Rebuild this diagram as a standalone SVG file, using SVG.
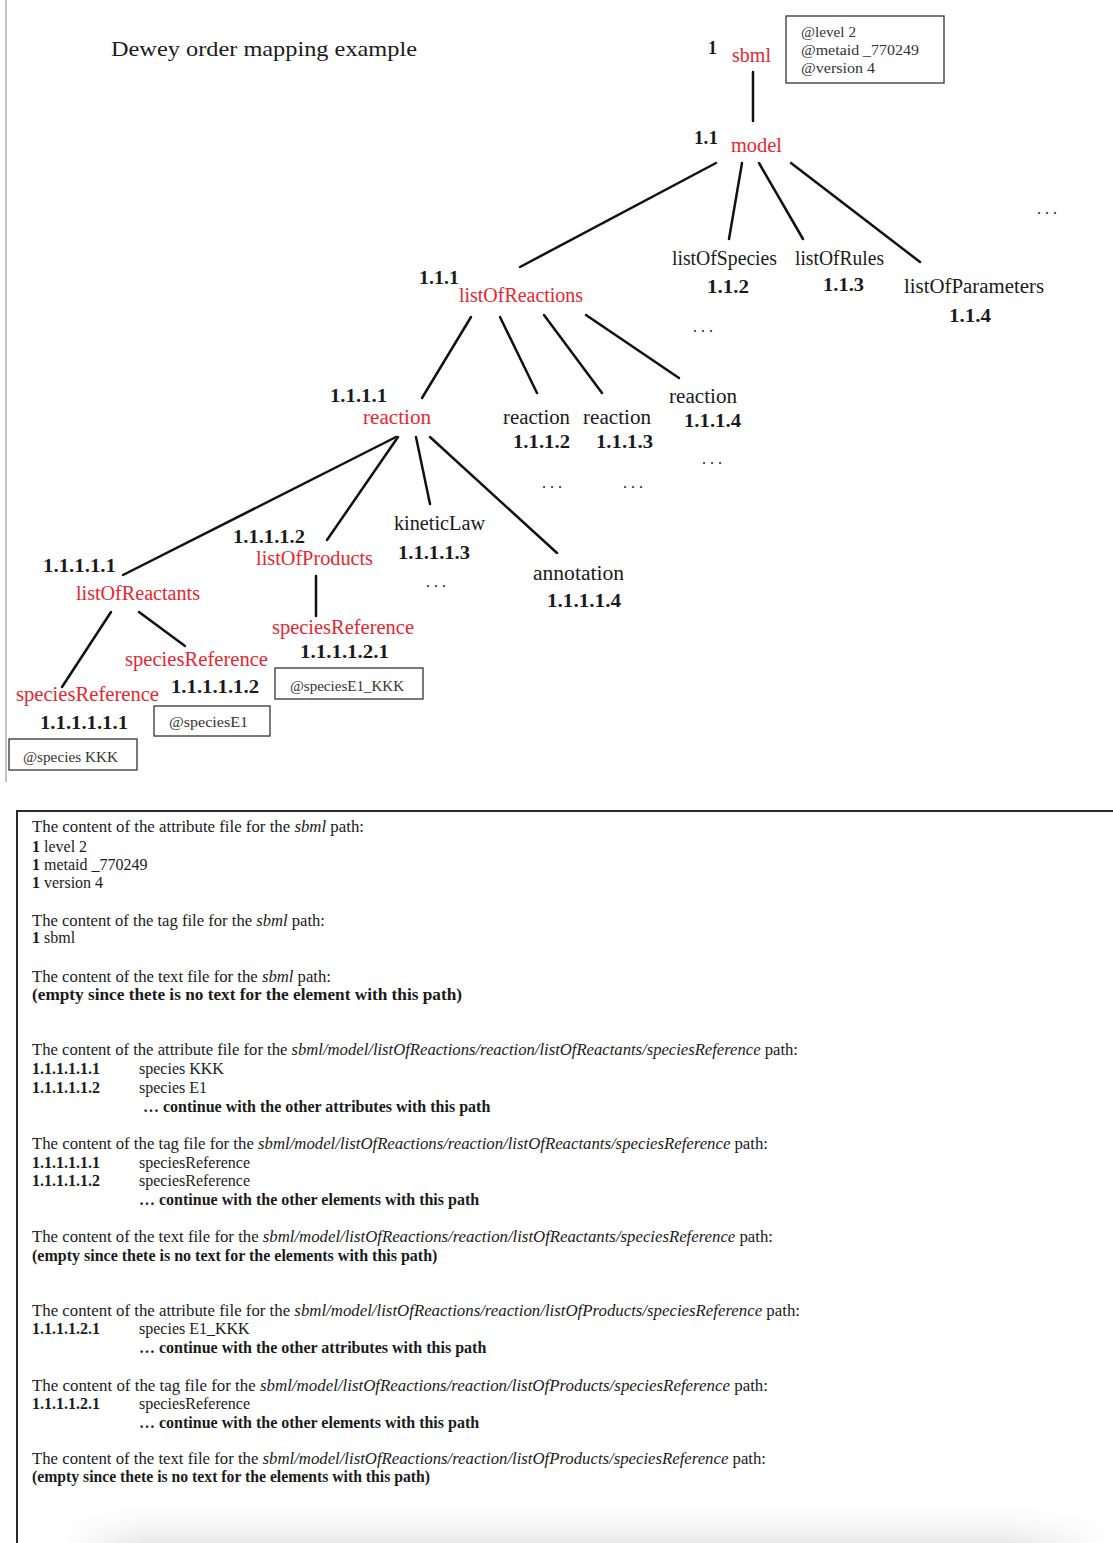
<svg xmlns="http://www.w3.org/2000/svg" width="1113" height="1543" viewBox="0 0 1113 1543">
<style>
text{font-family:"Liberation Serif","DejaVu Serif",serif;fill:#1a1a1a}
.lbl{font-size:20px}
.red{font-size:20px;fill:#e8262f}
.num{font-size:18px;font-weight:bold}
.att{font-size:15px;fill:#333}
.ell{font-size:16px;letter-spacing:4px}
.t{font-size:16px}
.b{font-weight:bold}
.i{font-style:italic}
.box{fill:none;stroke:#333;stroke-width:1.3}
#connectors line{stroke:#111;stroke-width:2.5;stroke-linecap:round}
</style>
<defs>
<linearGradient id="shade" x1="0" y1="0" x2="0" y2="1">
<stop offset="0" stop-color="#ffffff" stop-opacity="0"/>
<stop offset="1" stop-color="#e9e9e9"/>
</linearGradient>
<linearGradient id="fadeX" x1="0" y1="0" x2="1" y2="0">
<stop offset="0" stop-color="#fff" stop-opacity="1"/>
<stop offset="0.08" stop-color="#fff" stop-opacity="0"/>
<stop offset="0.9" stop-color="#fff" stop-opacity="0"/>
<stop offset="1" stop-color="#fff" stop-opacity="1"/>
</linearGradient>
</defs>
<rect width="1113" height="1543" fill="#fff"/>

<line x1="6" y1="0" x2="6" y2="782" stroke="#c4c4c4" stroke-width="2"/>

<text x="111" y="56" font-size="22" textLength="306" lengthAdjust="spacingAndGlyphs">Dewey order mapping example</text>

<g id="connectors">
<line x1="753" y1="72" x2="753" y2="121"/>
<line x1="716" y1="163" x2="520" y2="267"/>
<line x1="742" y1="163" x2="729" y2="239"/>
<line x1="759" y1="163" x2="803" y2="239"/>
<line x1="791" y1="163" x2="920" y2="262"/>
<line x1="471" y1="317" x2="422" y2="398"/>
<line x1="500" y1="317" x2="537" y2="393"/>
<line x1="544" y1="315" x2="602" y2="393"/>
<line x1="586" y1="315" x2="679" y2="378"/>
<line x1="396" y1="437" x2="123" y2="575"/>
<line x1="398" y1="437" x2="327" y2="540"/>
<line x1="416" y1="437" x2="430" y2="504"/>
<line x1="430" y1="437" x2="557" y2="553"/>
<line x1="316" y1="576" x2="316" y2="616"/>
<line x1="111" y1="612" x2="62" y2="687"/>
<line x1="139" y1="612" x2="185" y2="646"/>
</g>

<g id="n-sbml">
<text class="num" x="708" y="54">1</text>
<text class="red" x="732" y="62" textLength="39" lengthAdjust="spacingAndGlyphs">sbml</text>
</g>
<g id="attr-sbml">
<rect class="box" x="786" y="16" width="158" height="67"/>
<text class="att" x="801" y="37" textLength="55" lengthAdjust="spacingAndGlyphs">@level 2</text>
<text class="att" x="801" y="55" textLength="118" lengthAdjust="spacingAndGlyphs">@metaid _770249</text>
<text class="att" x="801" y="73" textLength="74" lengthAdjust="spacingAndGlyphs">@version 4</text>
</g>
<g id="n-model">
<text class="num" x="694" y="144" textLength="24" lengthAdjust="spacingAndGlyphs">1.1</text>
<text class="red" x="731" y="152" textLength="51" lengthAdjust="spacingAndGlyphs">model</text>
</g>
<g id="n-listOfReactions">
<text class="num" x="419" y="284" textLength="40" lengthAdjust="spacingAndGlyphs">1.1.1</text>
<text class="red" x="459" y="302" textLength="124" lengthAdjust="spacingAndGlyphs">listOfReactions</text>
</g>
<g id="n-listOfSpecies">
<text class="lbl" x="672" y="265" textLength="105" lengthAdjust="spacingAndGlyphs">listOfSpecies</text>
<text class="num" x="707" y="293" textLength="42" lengthAdjust="spacingAndGlyphs">1.1.2</text>
<text class="ell" x="693" y="332">...</text>
</g>
<g id="n-listOfRules">
<text class="lbl" x="795" y="265" textLength="89" lengthAdjust="spacingAndGlyphs">listOfRules</text>
<text class="num" x="823" y="291" textLength="41" lengthAdjust="spacingAndGlyphs">1.1.3</text>
</g>
<g id="n-listOfParameters">
<text class="lbl" x="904" y="293" textLength="140" lengthAdjust="spacingAndGlyphs">listOfParameters</text>
<text class="num" x="949" y="322" textLength="42" lengthAdjust="spacingAndGlyphs">1.1.4</text>
</g>
<g id="more-model">
<text class="ell" x="1037" y="214">...</text>
</g>
<g id="n-reaction1">
<text class="num" x="330" y="402" textLength="57" lengthAdjust="spacingAndGlyphs">1.1.1.1</text>
<text class="red" x="363" y="424" textLength="68" lengthAdjust="spacingAndGlyphs">reaction</text>
</g>
<g id="n-reaction2">
<text class="lbl" x="503" y="424" textLength="67" lengthAdjust="spacingAndGlyphs">reaction</text>
<text class="num" x="513" y="448" textLength="57" lengthAdjust="spacingAndGlyphs">1.1.1.2</text>
<text class="ell" x="542" y="488">...</text>
</g>
<g id="n-reaction3">
<text class="lbl" x="583" y="424" textLength="68" lengthAdjust="spacingAndGlyphs">reaction</text>
<text class="num" x="596" y="448" textLength="57" lengthAdjust="spacingAndGlyphs">1.1.1.3</text>
<text class="ell" x="623" y="488">...</text>
</g>
<g id="n-reaction4">
<text class="lbl" x="669" y="403" textLength="68" lengthAdjust="spacingAndGlyphs">reaction</text>
<text class="num" x="684" y="427" textLength="57" lengthAdjust="spacingAndGlyphs">1.1.1.4</text>
<text class="ell" x="702" y="464">...</text>
</g>
<g id="n-listOfReactants">
<text class="num" x="43" y="572" textLength="73" lengthAdjust="spacingAndGlyphs">1.1.1.1.1</text>
<text class="red" x="76" y="600" textLength="124" lengthAdjust="spacingAndGlyphs">listOfReactants</text>
</g>
<g id="n-listOfProducts">
<text class="num" x="233" y="543" textLength="72" lengthAdjust="spacingAndGlyphs">1.1.1.1.2</text>
<text class="red" x="256" y="565" textLength="117" lengthAdjust="spacingAndGlyphs">listOfProducts</text>
</g>
<g id="n-kineticLaw">
<text class="lbl" x="394" y="530" textLength="91" lengthAdjust="spacingAndGlyphs">kineticLaw</text>
<text class="num" x="398" y="559" textLength="72" lengthAdjust="spacingAndGlyphs">1.1.1.1.3</text>
<text class="ell" x="426" y="587">...</text>
</g>
<g id="n-annotation">
<text class="lbl" x="533" y="580" textLength="91" lengthAdjust="spacingAndGlyphs">annotation</text>
<text class="num" x="547" y="607" textLength="74" lengthAdjust="spacingAndGlyphs">1.1.1.1.4</text>
</g>
<g id="n-speciesReference-p1">
<text class="red" x="272" y="634" textLength="142" lengthAdjust="spacingAndGlyphs">speciesReference</text>
<text class="num" x="300" y="658" textLength="89" lengthAdjust="spacingAndGlyphs">1.1.1.1.2.1</text>
<rect class="box" x="275" y="668" width="148" height="31"/>
<text class="att" x="290" y="691" textLength="114" lengthAdjust="spacingAndGlyphs">@speciesE1_KKK</text>
</g>
<g id="n-speciesReference-r2">
<text class="red" x="125" y="666" textLength="143" lengthAdjust="spacingAndGlyphs">speciesReference</text>
<text class="num" x="171" y="693" textLength="88" lengthAdjust="spacingAndGlyphs">1.1.1.1.1.2</text>
<rect class="box" x="154" y="706" width="116" height="30"/>
<text class="att" x="169" y="727" textLength="79" lengthAdjust="spacingAndGlyphs">@speciesE1</text>
</g>
<g id="n-speciesReference-r1">
<text class="red" x="16" y="701" textLength="143" lengthAdjust="spacingAndGlyphs">speciesReference</text>
<text class="num" x="40" y="729" textLength="88" lengthAdjust="spacingAndGlyphs">1.1.1.1.1.1</text>
<rect class="box" x="9" y="739" width="128" height="31"/>
<text class="att" x="23" y="762" textLength="95" lengthAdjust="spacingAndGlyphs">@species KKK</text>
</g>

<g id="panel">
<rect x="60" y="1495" width="1053" height="48" fill="url(#shade)"/>
<rect x="60" y="1495" width="1053" height="48" fill="url(#fadeX)"/>
<path d="M17,1543 V811 H1113" fill="none" stroke="#2a2a2a" stroke-width="2"/>

<text class="t" x="32" y="832" textLength="332" lengthAdjust="spacingAndGlyphs">The content of the attribute file for the <tspan class="i">sbml</tspan> path:</text>
<text class="t" x="32" y="852"><tspan class="b">1</tspan> level 2</text>
<text class="t" x="32" y="870"><tspan class="b">1</tspan> metaid _770249</text>
<text class="t" x="32" y="888"><tspan class="b">1</tspan> version 4</text>

<text class="t" x="32" y="926" textLength="293" lengthAdjust="spacingAndGlyphs">The content of the tag file for the <tspan class="i">sbml</tspan> path:</text>
<text class="t" x="32" y="943"><tspan class="b">1</tspan> sbml</text>

<text class="t" x="32" y="982" textLength="299" lengthAdjust="spacingAndGlyphs">The content of the text file for the <tspan class="i">sbml</tspan> path:</text>
<text class="t b" x="32" y="1000" textLength="430" lengthAdjust="spacingAndGlyphs">(empty since thete is no text for the element with this path)</text>

<text class="t" x="32" y="1055" textLength="766" lengthAdjust="spacingAndGlyphs">The content of the attribute file for the <tspan class="i">sbml/model/listOfReactions/reaction/listOfReactants/speciesReference</tspan> path:</text>
<text class="t b" x="32" y="1074">1.1.1.1.1.1</text><text class="t" x="139" y="1074">species KKK</text>
<text class="t b" x="32" y="1093">1.1.1.1.1.2</text><text class="t" x="139" y="1093">species E1</text>
<text class="t b" x="143" y="1112">… continue with the other attributes with this path</text>

<text class="t" x="32" y="1149" textLength="736" lengthAdjust="spacingAndGlyphs">The content of the tag file for the <tspan class="i">sbml/model/listOfReactions/reaction/listOfReactants/speciesReference</tspan> path:</text>
<text class="t b" x="32" y="1168">1.1.1.1.1.1</text><text class="t" x="139" y="1168">speciesReference</text>
<text class="t b" x="32" y="1186">1.1.1.1.1.2</text><text class="t" x="139" y="1186">speciesReference</text>
<text class="t b" x="139" y="1205">… continue with the other elements with this path</text>

<text class="t" x="32" y="1242" textLength="741" lengthAdjust="spacingAndGlyphs">The content of the text file for the <tspan class="i">sbml/model/listOfReactions/reaction/listOfReactants/speciesReference</tspan> path:</text>
<text class="t b" x="32" y="1261">(empty since thete is no text for the elements with this path)</text>

<text class="t" x="32" y="1316" textLength="768" lengthAdjust="spacingAndGlyphs">The content of the attribute file for the <tspan class="i">sbml/model/listOfReactions/reaction/listOfProducts/speciesReference</tspan> path:</text>
<text class="t b" x="32" y="1334">1.1.1.1.2.1</text><text class="t" x="139" y="1334">species E1_KKK</text>
<text class="t b" x="139" y="1353">… continue with the other attributes with this path</text>

<text class="t" x="32" y="1391" textLength="736" lengthAdjust="spacingAndGlyphs">The content of the tag file for the <tspan class="i">sbml/model/listOfReactions/reaction/listOfProducts/speciesReference</tspan> path:</text>
<text class="t b" x="32" y="1409">1.1.1.1.2.1</text><text class="t" x="139" y="1409">speciesReference</text>
<text class="t b" x="139" y="1428">… continue with the other elements with this path</text>

<text class="t" x="32" y="1464" textLength="734" lengthAdjust="spacingAndGlyphs">The content of the text file for the <tspan class="i">sbml/model/listOfReactions/reaction/listOfProducts/speciesReference</tspan> path:</text>
<text class="t b" x="32" y="1482" textLength="398" lengthAdjust="spacingAndGlyphs">(empty since thete is no text for the elements with this path)</text>
</g>
</svg>
